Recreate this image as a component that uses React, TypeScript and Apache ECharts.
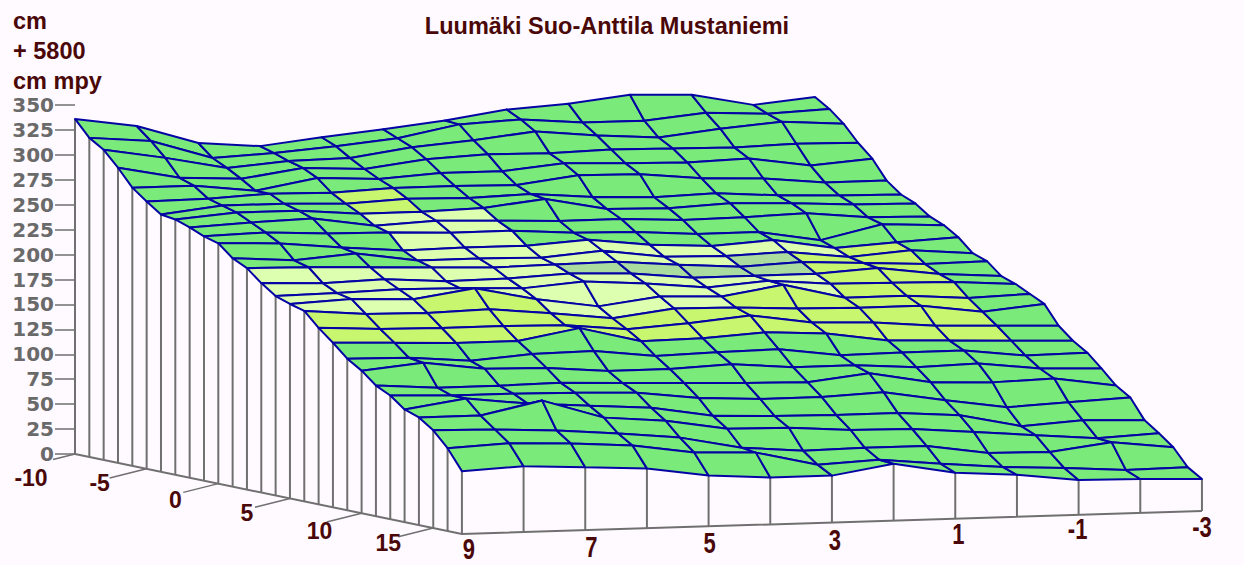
import React, { useEffect, useRef } from "react";
import * as echarts from "echarts";

const chartTitle = "Luumäki Suo-Anttila Mustaniemi";
const headerLines = ["cm", "+ 5800", "cm mpy"];

// depth axis, back to front (index 0 = -10)
const depthTicks = [-10, -5, 0, 5, 10, 15];
const depthCount = 28;
// width axis, left to right
const widthStations = [9, 8, 7, 6, 5, 4, 3, 2, 1, 0, -1, -2, -3];
const widthTicks = [9, 7, 5, 3, 1, -1, -3];

// surface height (cm) at each width station, from depth -10 to depth 17
const heightX9 = [336, 320, 311, 296, 279, 268, 258, 256, 251, 245, 241, 229, 222, 210, 200, 195, 191, 177, 165, 152, 143, 131, 124, 113, 108, 98, 83, 63];
const heightX8 = [327, 315, 301, 284, 279, 269, 265, 261, 254, 247, 239, 225, 221, 208, 201, 198, 186, 174, 163, 151, 149, 127, 122, 122, 108, 97, 86, 66];
const heightX7 = [308, 296, 289, 281, 272, 272, 265, 261, 256, 244, 233, 230, 219, 210, 203, 196, 185, 173, 161, 146, 141, 127, 122, 115, 121, 94, 84, 63];
const heightX6 = [303, 299, 294, 290, 283, 271, 263, 256, 247, 243, 228, 221, 217, 206, 202, 205, 187, 173, 161, 151, 140, 128, 121, 111, 102, 89, 80, 60];
const heightX5 = [310, 304, 295, 287, 280, 274, 266, 256, 250, 241, 229, 221, 215, 207, 200, 192, 181, 172, 172, 152, 135, 126, 119, 107, 97, 83, 71, 51];
const heightX4 = [316, 310, 304, 295, 284, 274, 265, 258, 248, 241, 229, 220, 216, 210, 205, 183, 174, 166, 157, 145, 135, 124, 112, 97, 87, 71, 69, 47];
const heightX3 = [323, 322, 309, 298, 284, 273, 267, 265, 246, 237, 233, 225, 217, 208, 201, 191, 182, 170, 158, 147, 138, 122, 109, 95, 86, 66, 55, 47];
const heightX2 = [332, 325, 316, 297, 290, 281, 262, 253, 246, 236, 226, 217, 212, 202, 195, 189, 181, 176, 162, 148, 133, 121, 109, 94, 82, 67, 58, 57];
const heightX1 = [336, 320, 310, 299, 288, 280, 260, 252, 243, 232, 223, 216, 208, 202, 200, 199, 178, 167, 159, 140, 133, 128, 112, 94, 81, 67, 52, 46];
const heightX0 = [343, 320, 306, 298, 287, 274, 262, 255, 244, 232, 227, 218, 211, 202, 195, 184, 177, 165, 150, 141, 129, 117, 102, 90, 76, 58, 47, 42];
const heightXm1 = [341, 326, 313, 297, 289, 272, 258, 253, 246, 222, 217, 211, 208, 206, 194, 184, 177, 160, 148, 141, 131, 115, 93, 77, 71, 57, 44, 35];
const heightXm2 = [329, 323, 318, 299, 280, 266, 256, 250, 240, 236, 221, 216, 205, 198, 193, 180, 169, 158, 146, 134, 124, 117, 96, 81, 66, 65, 40, 34];
const heightXm3 = [335, 326, 314, 298, 285, 266, 255, 249, 239, 233, 224, 211, 206, 194, 189, 182, 175, 156, 144, 135, 122, 108, 99, 79, 69, 58, 41, 32];

const heights = [heightX9, heightX8, heightX7, heightX6, heightX5, heightX4, heightX3, heightX2, heightX1, heightX0, heightXm1, heightXm2, heightXm3];

// colour class of each surface cell, one string per depth step (g, l, y, a)
const cellClasses = [
  "gggggggggggg",
  "gggggggggggg",
  "gggggggggggg",
  "gggggggggggg",
  "gggggggggggg",
  "gggygggggggg",
  "gggygggggggg",
  "gggllggggggg",
  "gggllggggggg",
  "gggllggggggg",
  "ggglllllllyg",
  "ggglllllayyg",
  "lllllaaaayyg",
  "lllllllllyyg",
  "lllllllllyyg",
  "llyylllyyyyg",
  "yyyyyyyyyyyg",
  "yyyyyyyyyyyg",
  "gggggggggggg",
  "gggggggggggg",
  "gggggggggggg",
  "gggggggggggg",
  "gggggggggggg",
  "gggggggggggg",
  "gggggggggggg",
  "gggggggggggg",
  "gggggggggggg",
];

const classOrder = "glya";
const classFill = ["#7AEA7A", "#DCFFB0", "#C8F66E", "#AADCA0"];

// projection of the 3D box onto the plot
const DEPTH_DX = 14.33;
const DEPTH_DV = 2.97;
const WIDTH_DX = 61.67;
const WIDTH_DV = -1.92;

// label placement relative to the axis point, in pixels, in tick order
const depthLabelOffsetX = [-44, -47, -43, -43, -42, -45];
const depthLabelOffsetY = [24, 14, 16, 15, 18, 15];
const depthTickReach = [22, 37, 35, 35, 35, 35];
const widthLabelOffsetX = [7, 6, 1, 3, 3, -1, 0];
const widthLabelOffsetY = [15, 17, 16, 17, 15, 14, 16];

const TEXT_DARK = "#4A0808";
const WALL = "#707070";
const MESH = "#0404A4";
const FONT = "'Liberation Sans', Arial, sans-serif";

const project = (api: any, d: number, i: number, z: number) =>
  api.coord([d * DEPTH_DX + i * WIDTH_DX, z - d * DEPTH_DV - i * WIDTH_DV]);

const cellData: number[][] = [];
cellClasses.forEach((row, d) => {
  for (let i = 0; i < widthStations.length - 1; i++) {
    cellData.push([d, i, classOrder.indexOf(row[i])]);
  }
});

const wallData: number[][] = [];
for (let d = 0; d < depthCount; d++) wallData.push([d, 0]);
for (let i = 1; i < widthStations.length; i++) wallData.push([depthCount - 1, i]);

export default function App() {
  const ref = useRef<HTMLDivElement>(null);
  useEffect(() => {
    document.body.style.margin = "0";
    const chart = echarts.init(ref.current!, undefined, { renderer: "svg" });
    const last = depthCount - 1;
    const lastI = widthStations.length - 1;
    chart.setOption({
      animation: false,
      backgroundColor: "#FFFAFF",
      title: {
        text: chartTitle,
        left: 602,
        top: 9,
        textAlign: "center",
        textStyle: { color: TEXT_DARK, fontFamily: FONT, fontWeight: "bold", fontSize: 23.5 },
      },
      graphic: headerLines.map((t, k) => ({
        type: "text",
        x: 13,
        y: 9 + k * 30,
        style: { text: t, fill: TEXT_DARK, font: `bold 23.5px ${FONT}` },
      })),
      grid: { left: 75, top: 105, width: 1127, height: 349 },
      xAxis: { type: "value", min: 0, max: 1127, show: false },
      yAxis: {
        type: "value",
        min: 0,
        max: 350,
        interval: 25,
        splitLine: { show: false },
        axisLine: { show: false },
        axisTick: { show: true, length: 20, lineStyle: { color: WALL, width: 1.5 } },
        axisLabel: {
          margin: 21,
          color: "#6A6A6A",
          fontFamily: "'DejaVu Sans', sans-serif",
          fontWeight: "bold",
          fontSize: 20,
        },
      },
      series: [
        {
          type: "custom",
          silent: true,
          clip: false,
          data: wallData,
          encode: { x: 0, y: 1 },
          renderItem: (_p: any, api: any) => {
            const d = api.value(0);
            const i = api.value(1);
            const top = project(api, d, i, heights[i][d]);
            const bottom = project(api, d, i, 0);
            return {
              type: "line",
              shape: { x1: top[0], y1: top[1], x2: bottom[0], y2: bottom[1] },
              style: { stroke: WALL, lineWidth: 2 },
            };
          },
        },
        {
          type: "custom",
          silent: true,
          clip: false,
          data: [[0]],
          encode: { x: 0 },
          renderItem: (_p: any, api: any) => ({
            type: "polyline",
            shape: {
              points: [project(api, 0, 0, 0), project(api, last, 0, 0), project(api, last, lastI, 0)],
            },
            style: { stroke: WALL, lineWidth: 2, fill: "none" },
          }),
        },
        {
          type: "custom",
          silent: true,
          clip: false,
          data: cellData,
          encode: { x: 0, y: 1 },
          renderItem: (_p: any, api: any) => {
            const d = api.value(0);
            const i = api.value(1);
            return {
              type: "polygon",
              shape: {
                points: [
                  project(api, d, i, heights[i][d]),
                  project(api, d, i + 1, heights[i + 1][d]),
                  project(api, d + 1, i + 1, heights[i + 1][d + 1]),
                  project(api, d + 1, i, heights[i][d + 1]),
                ],
              },
              style: { fill: classFill[api.value(2)], stroke: MESH, lineWidth: 2, lineJoin: "round" },
            };
          },
        },
        {
          type: "custom",
          silent: true,
          clip: false,
          data: depthTicks.map((t, k) => [t, k]),
          encode: { x: 0 },
          renderItem: (_p: any, api: any) => {
            const t = api.value(0);
            const k = api.value(1);
            const p = project(api, t + 10, 0, 0);
            const reach = depthTickReach[k];
            return {
              type: "group",
              children: [
                {
                  type: "line",
                  shape: { x1: p[0], y1: p[1], x2: p[0] - reach, y2: p[1] + reach * 0.25 },
                  style: { stroke: WALL, lineWidth: 1.5 },
                },
                {
                  type: "text",
                  x: p[0] + depthLabelOffsetX[k],
                  y: p[1] + depthLabelOffsetY[k],
                  style: {
                    text: String(t),
                    fill: TEXT_DARK,
                    font: `bold 23px ${FONT}`,
                    align: "center",
                    verticalAlign: "middle",
                  },
                },
              ],
            };
          },
        },
        {
          type: "custom",
          silent: true,
          clip: false,
          data: widthTicks.map((t, k) => [t, k]),
          encode: { x: 0 },
          renderItem: (_p: any, api: any) => {
            const t = api.value(0);
            const k = api.value(1);
            const p = project(api, last, widthStations.indexOf(t), 0);
            return {
              type: "text",
              x: p[0] + widthLabelOffsetX[k],
              y: p[1] + widthLabelOffsetY[k],
              scaleY: 1.35,
              style: {
                text: String(t),
                fill: TEXT_DARK,
                font: `bold 22px ${FONT}`,
                align: "center",
                verticalAlign: "middle",
              },
            };
          },
        },
      ],
    });
    return () => chart.dispose();
  }, []);
  return <div ref={ref} style={{ width: 1244, height: 565 }} />;
}
